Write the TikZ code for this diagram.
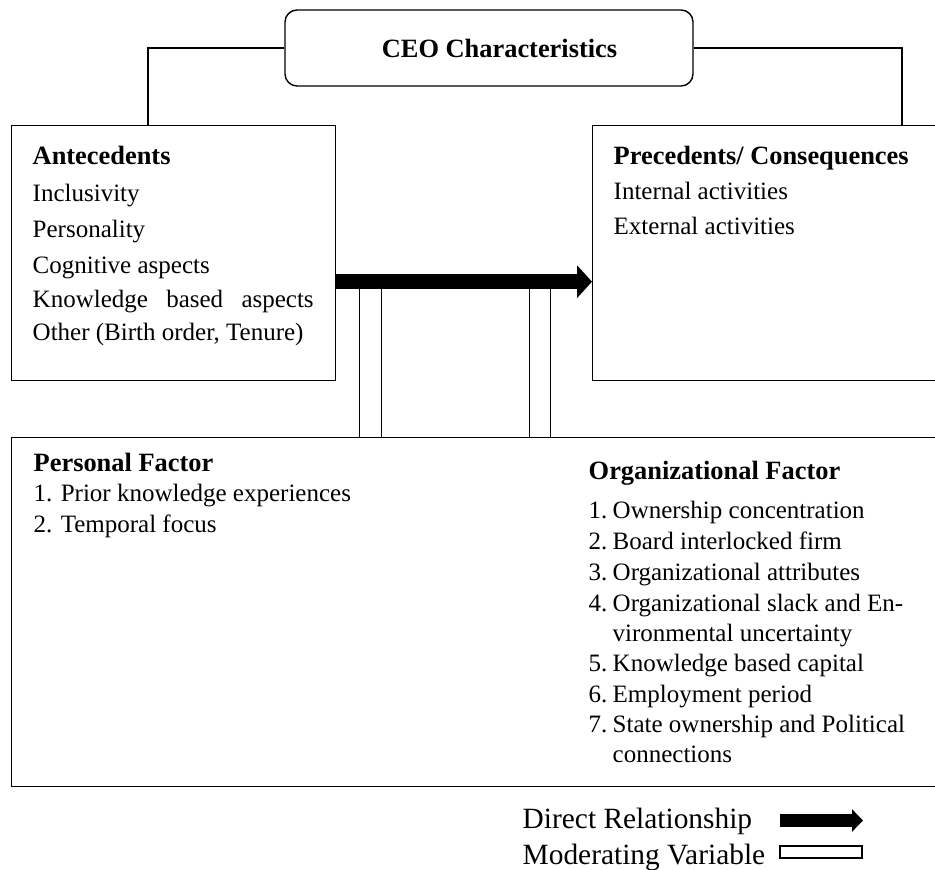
\documentclass[tikz,border=0pt]{standalone}
\usepackage{fontspec}
\setmainfont{Liberation Serif}
\usetikzlibrary{arrows.meta}
\usetikzlibrary{calc}
\colorlet{boxline}{black}
\colorlet{keyfill}{white}

\begin{document}
\begin{tikzpicture}[x=0.5pt, y=-0.5pt, line width=0.7pt,
        box/.style={draw=boxline, rectangle, inner sep=0pt, anchor=north west},
        boxentry/.style={inner sep=0pt, anchor=base west, font=\fontsize{12.5}{15}\selectfont},
        boxtitle/.style={boxentry, font=\fontsize{13.2}{15}\selectfont\bfseries},
        keytext/.style={inner sep=0pt, anchor=base west, font=\fontsize{14.7}{17}\selectfont},
        modbar/.style={draw=boxline, fill=keyfill, inner sep=0pt, minimum width=10.75pt, anchor=north},
        direct/.style={-{Triangle[length=7.5pt, width=16pt]}, line width=7.5pt}]
        \useasboundingbox (0,0) rectangle (935,870);
        \clip (0,0) rectangle (935,870);
        \node[draw=boxline, rounded corners=6pt, inner sep=0pt, minimum width=204pt, minimum height=38pt] (ceo) at (489,48) {};
        \node[boxtitle, anchor=center] (ceo-text) at (499.5,48) {CEO Characteristics};
        \node[box, minimum width=162pt, minimum height=127.5pt] (ante) at (11,125) {};
        \node[box, minimum width=190pt, minimum height=127.5pt] (prec) at (592,125) {};
        \node[box, minimum width=480pt, minimum height=174.5pt] (factor) at (11,437) {};
        \coordinate (ante-in) at (148,125);
        \coordinate (prec-in) at (902,125);
        \draw[boxline] (ceo.west) -| (ante-in);
        \draw[boxline] (ceo.east) -| (prec-in);
        \node[boxtitle] (ante-title) at (32,165) {Antecedents};
        \foreach \y/\t in {202/Inclusivity, 238/Personality, 274/Cognitive aspects,
            308/{\makebox[140.5pt][s]{Knowledge based aspects}}, 341/{Other (Birth order, Tenure)}}
        {
            \node[boxentry] (ante-\y) at (32,\y) {\t};
        }
        \node[boxtitle] (prec-title) at (613,165) {Precedents/ Consequences};
        \node[boxentry] (prec-int) at (613,200) {Internal activities};
        \node[boxentry] (prec-ext) at (613,235) {External activities};
        \node[boxtitle] (pers-title) at (33,472) {Personal Factor};
        \node[boxentry] (pers-1) at (33,502) {1. Prior knowledge experiences};
        \node[boxentry] (pers-2) at (33,532) {2. Temporal focus};
        \node[boxtitle] (org-title) at (588,480) {Organizational Factor};
        \foreach \y/\n/\t in {518/1./Ownership concentration, 549/2./Board interlocked firm,
            580/3./Organizational attributes, 611/4./Organizational slack and En-,
            641//vironmental uncertainty, 671/5./Knowledge based capital,
            702/6./Employment period, 732/7./State ownership and Political, 762//connections}
        {
            \node[boxentry] (org-num-\y) at (588,\y) {\n};
            \node[boxentry] (org-\y) at (612,\y) {\t};
        }
        \node[modbar, minimum height=78pt] (mod-a) at (370.5,281) {};
        \node[modbar, minimum height=78pt] (mod-b) at (540,281) {};
        \draw[direct] ([yshift=-14.25pt]ante.east) -- ([yshift=-14.25pt]prec.west);
        \node[keytext] (key-direct) at (522,828) {Direct Relationship};
        \node[keytext] (key-mod) at (522,864) {Moderating Variable};
        \coordinate (key-a) at (780,820.5);
        \coordinate (key-b) at (863,820.5);
        \draw[-{Triangle[length=5.5pt, width=11pt]}, line width=6.5pt] (key-a) -- (key-b);
        \node[draw=boxline, inner sep=0pt, minimum width=41pt, minimum height=6pt] (key-bar) at (821,852) {};
    \end{tikzpicture}
\end{document}
